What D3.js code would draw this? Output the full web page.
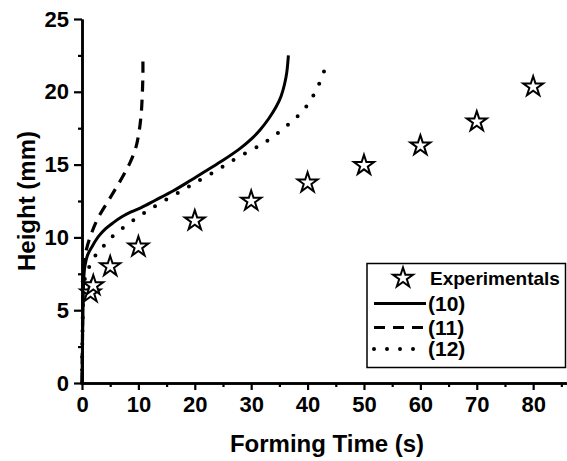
<!DOCTYPE html>
<html>
<head>
<meta charset="utf-8">
<script src="https://cdn.jsdelivr.net/npm/d3@7"></script>
<style>
  body { margin: 0; background: #fff; }
  svg { display: block; font-family: Arial, "Liberation Sans", sans-serif; }
</style>
</head>
<body>
<svg id="chart" width="567" height="461"></svg>
<script>
// experimental points (time s, height mm)
const expTime   = [1.5, 2, 5, 10, 20, 30, 40, 50, 60, 70, 80];
const expHeight = [6.2, 6.7, 8.0, 9.35, 11.15, 12.5, 13.75, 14.95, 16.3, 17.95, 20.35];

// model curves
const eq10 = [[0,0],[0.1,3],[0.2,5.5],[0.3,7],[0.5,8],[1,8.8],[1.9,9.45],[3,10.1],[4.2,10.6],[5.5,11.0],
  [7,11.4],[8.7,11.75],[10.5,12.05],[13,12.55],[16.2,13.2],[19,13.85],[22.1,14.6],[25,15.3],[28,16.1],
  [30,16.75],[31.6,17.4],[33.1,18.15],[34.4,18.95],[35.3,19.7],[35.9,20.5],[36.3,21.3],[36.6,22.5]];
const eq11 = [[0,0],[0.1,4],[0.15,7],[0.3,8.3],[0.8,9.2],[1.6,10.2],[2.8,11.3],[4.8,12.6],[6.2,13.5],
  [7.4,14.3],[8.6,15.2],[9.5,16.1],[10.1,17.2],[10.5,18.5],[10.7,19.9],[10.8,21.2],[10.8,22.2]];
const eq12 = [[0,0],[0.1,4],[0.3,6.5],[0.6,7.3],[1.1,7.8],[1.9,8.5],[3.4,9.2],[4.8,9.85],[6.9,10.55],
  [9,11.15],[11.1,11.7],[13.2,12.2],[17.4,13.15],[20.5,13.85],[23.9,14.6],[27,15.35],[30.3,16.05],
  [32.3,16.5],[34.2,17.0],[36.1,17.6],[37.9,18.2],[39.7,18.96],[41.1,19.8],[42.2,20.67],[43.1,21.6]];

const xTicks = [0, 10, 20, 30, 40, 50, 60, 70, 80];
const xMinor = [5, 15, 25, 35, 45, 55, 65, 75, 85];
const yTicks = [0, 5, 10, 15, 20, 25];
const yMinor = [2.5, 7.5, 12.5, 17.5, 22.5];

const legendLabels = ['Experimentals', '(10)', '(11)', '(12)'];

const svg = d3.select('#chart');
const x = d3.scaleLinear().domain([0, 86]).range([82, 567]);
const y = d3.scaleLinear().domain([0, 25]).range([383, 19]);

const styles = [
  {dash: null, width: 3},
  {dash: '11 8', width: 3.2},
  {dash: '0 13', width: 4, cap: 'round'}
];

const line = d3.line().x(d => x(d[0])).y(d => y(d[1])).curve(d3.curveCatmullRom.alpha(0.5));

[eq10, eq11, eq12].forEach((data, i) => {
  svg.append('path')
    .attr('d', line(data))
    .attr('fill', 'none')
    .attr('stroke', '#000')
    .attr('stroke-width', styles[i].width)
    .attr('stroke-dasharray', styles[i].dash)
    .attr('stroke-linecap', styles[i].cap || 'butt');
});

const star = d3.symbol(d3.symbolStar).size(124);
svg.selectAll('.pt').data(expTime).enter().append('path')
  .attr('class', 'pt')
  .attr('d', star)
  .attr('transform', (d, i) => `translate(${x(d)},${y(expHeight[i])})`)
  .attr('fill', '#fff')
  .attr('stroke', '#000')
  .attr('stroke-width', 2);

// axes
const xAxis = svg.append('g').attr('transform', `translate(0,${y(0)})`)
  .call(d3.axisBottom(x).tickValues(xTicks).tickSize(7).tickSizeOuter(0).tickPadding(6));
const xMin = svg.append('g').attr('transform', `translate(0,${y(0)})`)
  .call(d3.axisBottom(x).tickValues(xMinor).tickSize(4).tickSizeOuter(0).tickFormat(''));
const yAxis = svg.append('g').attr('transform', `translate(${x(0)},0)`)
  .call(d3.axisLeft(y).tickValues(yTicks).tickSize(8).tickSizeOuter(0).tickPadding(5));
const yMin = svg.append('g').attr('transform', `translate(${x(0)},0)`)
  .call(d3.axisLeft(y).tickValues(yMinor).tickSize(4).tickSizeOuter(0).tickFormat(''));

[xAxis, xMin, yAxis, yMin].forEach(g => {
  g.select('.domain').attr('stroke', '#000').attr('stroke-width', 2.5);
  g.selectAll('.tick line').attr('stroke', '#000').attr('stroke-width', 2.2);
  g.selectAll('.tick text').attr('fill', '#000')
    .style('font-size', '22px').style('font-weight', 'bold');
});

svg.append('text')
  .attr('x', 327).attr('y', 452)
  .attr('text-anchor', 'middle')
  .style('font-size', '24px').style('font-weight', 'bold')
  .text('Forming Time (s)');

svg.append('text')
  .attr('transform', 'translate(35,201) rotate(-90)')
  .attr('text-anchor', 'middle')
  .style('font-size', '24px').style('font-weight', 'bold')
  .text('Height (mm)');

// legend
const leg = svg.append('g');
leg.append('rect')
  .attr('x', 367).attr('y', 263.5).attr('width', 198.5).attr('height', 104)
  .attr('fill', '#fff').attr('stroke', '#000').attr('stroke-width', 1.5);

const rows = [278, 303.5, 327.5, 349];
leg.append('path')
  .attr('d', star)
  .attr('transform', `translate(403,${rows[0]})`)
  .attr('fill', '#fff').attr('stroke', '#000').attr('stroke-width', 2);

styles.forEach((s, i) => {
  leg.append('line')
    .attr('x1', 374).attr('x2', 426)
    .attr('y1', rows[i + 1]).attr('y2', rows[i + 1])
    .attr('stroke', '#000')
    .attr('stroke-width', s.width)
    .attr('stroke-dasharray', s.dash)
    .attr('stroke-linecap', s.cap || 'butt');
});

legendLabels.forEach((t, i) => {
  leg.append('text')
    .attr('x', i === 0 ? 430 : 428)
    .attr('y', rows[i] + 7)
    .style('font-size', i === 0 ? '19px' : '21px').style('font-weight', 'bold')
    .text(t);
});
</script>
</body>
</html>
